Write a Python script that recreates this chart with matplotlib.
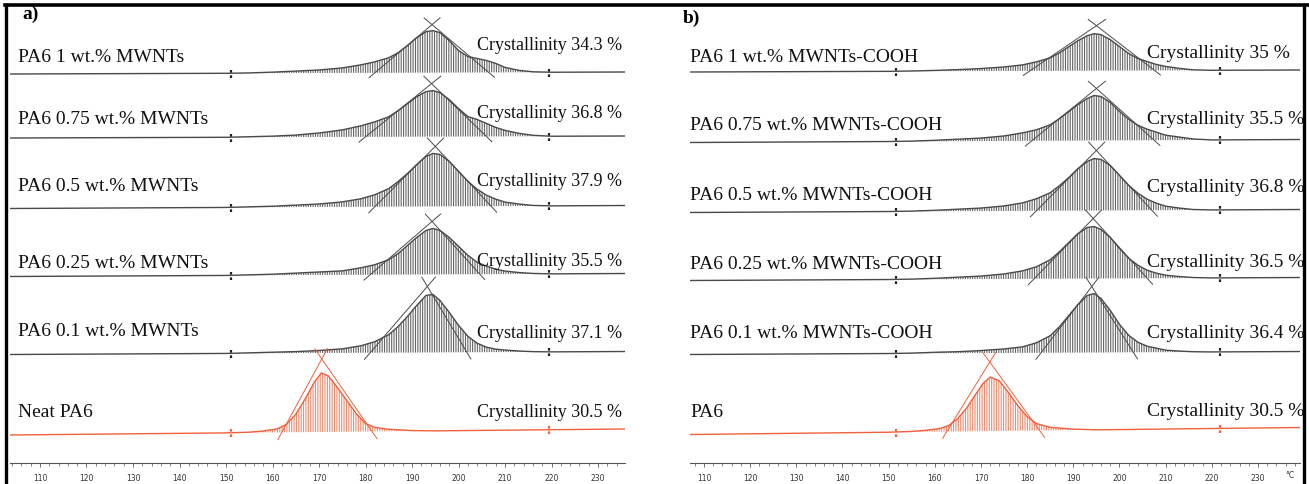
import numpy as np
import matplotlib
matplotlib.use("Agg")
import matplotlib.pyplot as plt
from matplotlib.lines import Line2D
from matplotlib.patches import Rectangle
from matplotlib.ticker import MultipleLocator

# ---------------- data ----------------
T_GRID = [150, 155, 160, 165, 170, 175, 179, 182, 185, 187, 189, 191, 193, 194.5,
          196, 198, 200, 202, 204, 206, 208, 210, 213, 216, 220]
T_NEAT = [150, 155, 158, 161, 163, 165, 167, 169, 170.5, 172, 174, 176, 178, 180,
          182, 185, 190, 195]

# panel a  (rows from top to bottom)
LABELS_A = ["PA6 1 wt.% MWNTs", "PA6 0.75 wt.% MWNTs", "PA6 0.5 wt.% MWNTs",
            "PA6 0.25 wt.% MWNTs", "PA6 0.1 wt.% MWNTs", "Neat PA6"]
CRYST_A = ["34.3", "36.8", "37.9", "35.5", "37.1", "30.5"]
H_A_1 = [0, 0.3, 1, 2, 3, 5, 8, 11, 15, 20, 27, 35, 41, 42, 40, 32, 22, 16, 14, 12, 9, 5, 2, 0.5, 0]
H_A_075 = [0, 0.5, 1, 2, 4, 7, 11, 15, 20, 26, 33, 40, 45, 46, 44, 37, 28, 20, 17, 13, 9, 6, 3, 1, 0]
H_A_05 = [0, 0.5, 1, 2, 3, 5, 8, 12, 18, 25, 33, 42, 50, 53, 52, 45, 35, 25, 17, 11, 7, 4, 2, 0.5, 0]
H_A_025 = [0, 0.5, 1, 2, 3, 4, 7, 10, 15, 21, 29, 37, 44, 46, 44, 37, 28, 19, 12, 8, 5, 3, 1.5, 0.5, 0]
H_A_01 = [0, 0.5, 1, 1.5, 2.5, 4, 7, 11, 18, 26, 36, 47, 57, 58, 52, 40, 27, 16, 9, 5, 3, 2, 1, 0.3, 0]
H_A_NEAT = [0, 0.5, 1.5, 3.5, 8, 18, 33, 50, 59, 56, 44, 31, 18, 8, 4, 2, 0.5, 0]
TAN_ON_A = [182, 180, 182, 181, 181, 162]
TAN_END_A = [206.5, 206, 207, 204.6, 201.8, 181.4]
APEX_T_A = [194.3, 194.2, 195, 194.3, 193.3, 170.6]
APEX_H_A = [48, 53, 60, 53, 66, 73]
MARK_T_A = [151.1, 219.5]

# panel b
LABELS_B = ["PA6 1 wt.% MWNTs-COOH", "PA6 0.75 wt.% MWNTs-COOH", "PA6 0.5 wt.% MWNTs-COOH",
            "PA6 0.25 wt.% MWNTs-COOH", "PA6 0.1 wt.% MWNTs-COOH", "PA6"]
CRYST_B = ["35", "35.5", "36.8", "36.5", "36.4", "30.5"]
H_B_1 = [0, 0.3, 0.8, 1.5, 2.5, 4, 6, 9, 13, 18, 24, 30, 35, 37, 36, 31, 24, 17, 12, 9, 6, 4, 2, 0.5, 0]
H_B_075 = [0, 0.3, 1, 2, 3, 5, 8, 11, 16, 22, 29, 36, 42, 45, 44, 38, 29, 21, 15, 11, 8, 5, 3, 1, 0]
H_B_05 = [0, 0.3, 1, 2, 3, 5, 8, 12, 18, 25, 33, 42, 49, 52, 51, 45, 35, 25, 17, 11, 7, 4, 2, 0.5, 0]
H_B_025 = [0, 0.3, 1, 2, 3, 5, 8, 12, 19, 27, 36, 45, 51, 52, 49, 41, 30, 20, 13, 8, 5, 3, 1.5, 0.5, 0]
H_B_01 = [0, 0.3, 1, 1.5, 2.5, 4, 6, 10, 17, 26, 37, 48, 57, 59, 54, 42, 28, 17, 10, 6, 4, 2, 1, 0.3, 0]
H_B_NEAT = [0, 0.5, 1.5, 3, 6, 13, 24, 38, 48, 54, 50, 38, 25, 14, 7, 3, 1, 0]
TAN_ON_B = [180.6, 181, 182, 181.5, 183, 162.6]
TAN_END_B = [207.6, 207.5, 207, 206, 203, 182.7]
APEX_T_B = [195, 195, 195, 194.3, 194, 171.9]
APEX_H_B = [45, 52, 60, 60, 66, 69]
MARK_T_B = [151.6, 221.7]

TICKS = list(range(110, 240, 10))

# ---------------- layout / style ----------------
W, H = 1309, 485
GRAY = "#4a4a4a"
HATCH_GRAY = "#666666"
ORANGE = "#f0603c"
HATCH_OR = "#f38a6e"
SERIF = "Liberation Serif"

plt.rcParams["hatch.linewidth"] = 0.8

fig = plt.figure(figsize=(W / 100, H / 100), dpi=100)
fig.patch.set_facecolor("white")


def fx(x):
    return x / W


def fy(y):
    return 1 - y / H


def make_panel(px0, px1, xlim, heights, tan_on, tan_end, apex_t, apex_h,
               mark_t, offsets, drifts):
    ax = fig.add_axes([fx(px0), fy(464), fx(px1) - fx(px0), (464 - 8) / H])
    ax.set_xlim(*xlim)
    ax.set_ylim(0, 456)
    for s in ["left", "right", "top"]:
        ax.spines[s].set_visible(False)
    ax.spines["bottom"].set_color("#555555")
    ax.spines["bottom"].set_linewidth(0.8)
    ax.set_yticks([])
    ax.set_xticks(TICKS)
    ax.xaxis.set_minor_locator(MultipleLocator(2))
    ax.tick_params(axis="x", which="major", length=3, width=0.6, color="#555555",
                   labelsize=5.5, labelcolor="#333333", pad=4)
    ax.tick_params(axis="x", which="minor", length=2, width=0.5, color="#555555")
    for lab in ax.get_xticklabels():
        lab.set_family("DejaVu Sans")
    x0, x1 = xlim
    n = len(heights)
    for i in range(n):
        is_neat = i == n - 1
        col = ORANGE if is_neat else GRAY
        hcol = HATCH_OR if is_neat else HATCH_GRAY
        tg = np.array(T_NEAT if is_neat else T_GRID, dtype=float)
        hh = np.array(heights[i], dtype=float)
        off, dr = offsets[i], drifts[i]

        def base(t):
            return off - dr / 2 + dr * (np.asarray(t) - x0) / (x1 - x0)

        tf = np.concatenate([[x0], tg, [x1]])
        yf = base(tf) + np.concatenate([[0], hh, [0]])
        ax.fill_between(tg, base(tg), base(tg) + hh, facecolor="none",
                        edgecolor=hcol, hatch="|" * 7, linewidth=0)
        ax.plot(tf, yf, color=col, lw=1.0)
        # tangent construction lines
        for tb in (tan_on[i], tan_end[i]):
            tt = np.array([-0.1, 1.14])
            xs = tb + tt * (apex_t[i] - tb)
            ys = base(tb) + tt * (base(apex_t[i]) + apex_h[i] - base(tb))
            ax.plot(xs, ys, color=col, lw=0.7)
        # baseline limit markers
        for mt in mark_t:
            b = float(base(mt))
            ax.plot([mt, mt], [b - 4.5, b + 4.5], color=col if is_neat else "#222222",
                    lw=1.6, ls=(0, (1.2, 1.2)))
    return ax


OFF_A = [390, 326, 256, 188, 110, 31]
DRIFT_A = [2, 2, 3, 3, 3, 6]
OFF_B = [392, 322, 252, 184, 110, 32]
DRIFT_B = [2, 3, 3, 3, 3, 7]

axa = make_panel(10, 625, (103.55, 235.8),
                 [H_A_1, H_A_075, H_A_05, H_A_025, H_A_01, H_A_NEAT],
                 TAN_ON_A, TAN_END_A, APEX_T_A, APEX_H_A, MARK_T_A, OFF_A, DRIFT_A)
axb = make_panel(690, 1300, (106.97, 239.1),
                 [H_B_1, H_B_075, H_B_05, H_B_025, H_B_01, H_B_NEAT],
                 TAN_ON_B, TAN_END_B, APEX_T_B, APEX_H_B, MARK_T_B, OFF_B, DRIFT_B)

# texts
LAB_Y_A = [57, 120, 187, 264, 331, 413]
CRY_Y_A = [45, 113, 182, 262, 333, 413]
LAB_Y_B = [58, 126, 195, 265, 333, 413]
CRY_Y_B = [53, 120, 188, 263, 333, 412]
for i in range(6):
    fig.text(fx(18), fy(LAB_Y_A[i]), LABELS_A[i], family=SERIF, fontsize=14,
             va="center", ha="left", color="#111111")
    fig.text(fx(622), fy(CRY_Y_A[i]), "Crystallinity " + CRYST_A[i] + " %", family=SERIF,
             fontsize=13, va="center", ha="right", color="#111111")
    fig.text(fx(690), fy(LAB_Y_B[i]), LABELS_B[i], family=SERIF, fontsize=14,
             va="center", ha="left", color="#111111")
    fig.text(fx(1147), fy(CRY_Y_B[i]), "Crystallinity " + CRYST_B[i] + " %", family=SERIF,
             fontsize=14, va="center", ha="left", color="#111111")

fig.text(fx(22), fy(14), "a)", family=SERIF, fontsize=14, fontweight="bold",
         va="center", ha="left")
fig.text(fx(683), fy(18), "b)", family=SERIF, fontsize=14, fontweight="bold",
         va="center", ha="left")
fig.text(fx(1290), fy(476), "°C", family="DejaVu Sans", fontsize=5.5, color="#333333",
         va="center", ha="center")

# frame
fig.add_artist(Rectangle((fx(1303), 0), 1 - fx(1303), 1, transform=fig.transFigure,
                         facecolor="white", edgecolor="none", zorder=20))
fig.add_artist(Line2D([fx(5), 1], [fy(5.5), fy(5.5)], color="black", lw=2.6,
                      transform=fig.transFigure, zorder=21))
fig.add_artist(Line2D([fx(6), fx(6)], [0, fy(5.5)], color="black", lw=2.4,
                      transform=fig.transFigure, zorder=21))
fig.add_artist(Line2D([fx(1303.5), fx(1303.5)], [0, fy(5.5)], color="black", lw=2.4,
                      transform=fig.transFigure, zorder=21))

fig.savefig("out.png", dpi=100, facecolor="white")
